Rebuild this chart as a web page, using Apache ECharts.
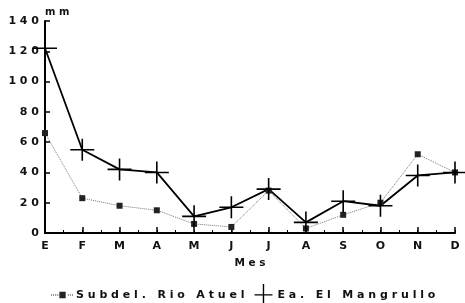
<!DOCTYPE html>
<html><head><meta charset="utf-8">
<script src="https://cdn.jsdelivr.net/npm/echarts@6/dist/echarts.min.js"></script>
<style>html,body{margin:0;padding:0;background:#fff}#c{width:465px;height:303px}</style>
</head><body><div id="c"></div>
<script>
const months = ['E','F','M','A','M','J','J','A','S','O','N','D'];
const rioAtuel = [66, 23, 18, 15, 6, 4, 28, 3, 12, 20, 52, 40];
const mangrullo = [122, 55, 42, 40, 11, 17, 29, 7, 21, 18, 38, 40];
const yTicks = [0, 20, 40, 60, 80, 100, 120, 140];
const seriesNames = ['Subdel. Rio Atuel', 'Ea. El Mangrullo'];
const xTitle = 'Mes';
const yTitle = 'mm';

const sp = s => String(s).split('').join(' ');
const FONT = 'DejaVu Sans';
const crossPath = 'path://M0,10.2L24,10.2L24,11.8L0,11.8Z M11.2,0L12.8,0L12.8,22L11.2,22Z';
// legend icons
let dots = '';
for (let x = 0; x <= 20; x += 2) { if (x < 8 || x > 14) dots += 'M' + x + ',2.6h1v0.8h-1Z '; }
const legendIcon1 = 'path://' + dots + 'M8,0h6v6h-6Z';
const legendIcon2 = 'path://M0,10.2L18,10.2L18,11.6L0,11.6Z M8.3,0L9.7,0L9.7,22L8.3,22Z';

const chart = echarts.init(document.getElementById('c'), null, {renderer: 'canvas'});
chart.setOption({
  animation: false,
  backgroundColor: '#fff',
  grid: {left: 45, right: 10, top: 21, bottom: 70, containLabel: false},
  legend: {
    top: 279, left: 46, itemGap: 10, itemWidth: 22, itemHeight: 22,
    symbolKeepAspect: true,
    data: [{name: seriesNames[0], icon: legendIcon1}, {name: seriesNames[1], icon: legendIcon2}],
    formatter: n => sp(n),
    textStyle: {fontFamily: FONT, fontWeight: 'bold', fontSize: 11, color: '#111', padding: [0,0,0,-2]}
  },
  xAxis: [{
    type: 'category', data: months, boundaryGap: false,
    name: sp(xTitle), nameLocation: 'middle', nameGap: 25,
    nameTextStyle: {fontFamily: FONT, fontWeight: 'bold', fontSize: 10.5, color: '#111'},
    axisLine: {lineStyle: {color: '#000', width: 2}},
    axisTick: {inside: true, length: 6, lineStyle: {color: '#000', width: 1.5}},
    axisLabel: {fontFamily: FONT, fontWeight: 'bold', fontSize: 11, color: '#111', margin: 8},
    splitLine: {show: false}
  }, {
    type: 'value', min: 0, max: 11, interval: 0.5, position: 'bottom',
    axisLine: {show: false}, axisLabel: {show: false}, splitLine: {show: false},
    axisTick: {inside: true, length: 3, lineStyle: {color: '#000', width: 1}}
  }],
  yAxis: {
    type: 'value', min: 0, max: 140, interval: 20,
    name: sp(yTitle), nameLocation: 'end', nameGap: 4,
    nameTextStyle: {fontFamily: FONT, fontWeight: 'bold', fontSize: 10, color: '#111', align: 'left', padding: [0,0,0,0]},
    axisLine: {show: true, lineStyle: {color: '#000', width: 2}},
    axisTick: {show: true, inside: true, length: 5, lineStyle: {color: '#000', width: 1.5}},
    axisLabel: {fontFamily: FONT, fontWeight: 'bold', fontSize: 11, color: '#111', margin: 6, formatter: v => sp(v)},
    splitLine: {show: false}
  },
  series: [{
    name: seriesNames[0], type: 'line', data: rioAtuel,
    symbol: 'rect', symbolSize: 6, showAllSymbol: true,
    lineStyle: {color: '#777', width: 1, type: 'dotted'},
    itemStyle: {color: '#222', borderColor: '#222', borderWidth: 0}
  }, {
    name: seriesNames[1], type: 'line', data: mangrullo,
    symbol: crossPath, symbolSize: [24, 22], showAllSymbol: true, symbolKeepAspect: false,
    lineStyle: {color: '#000', width: 1.8, type: 'solid'},
    itemStyle: {color: '#000', borderWidth: 0}
  }]
});
</script></body></html>
